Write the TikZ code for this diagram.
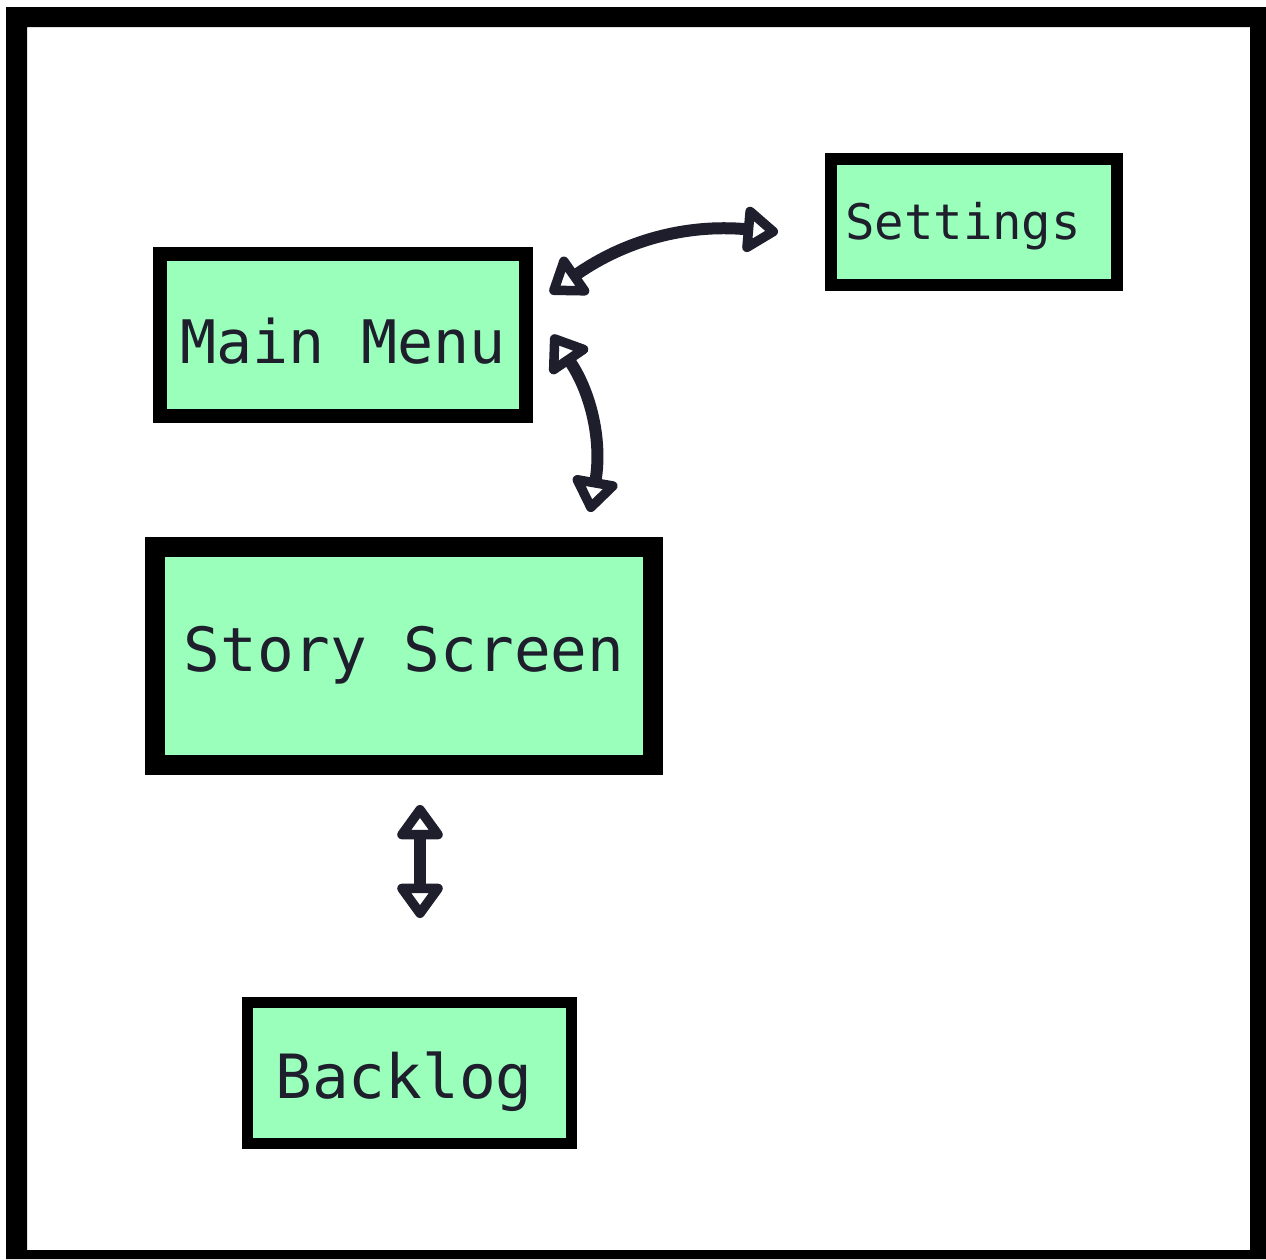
\documentclass[tikz,border=0pt]{standalone}
\usepackage{fontspec}
\newfontfamily\screenfont{DejaVu Sans Mono}
\usetikzlibrary{arrows.meta,calc}
\definecolor{screengreen}{HTML}{99FFBB}
\definecolor{inkdark}{HTML}{1E1E2C}
\tikzset{
  screenbox/.style={draw=black, fill=screengreen, rectangle, inner sep=0pt,
    text=inkdark, text depth=0pt},
  flowtip/.tip={Triangle[round,fill=white,length=38pt,width=52pt,line width'=14pt]},
  flow/.style={draw=inkdark, line width=12pt, line cap=round, flowtip-flowtip}
}
\begin{document}
\begin{tikzpicture}[x=1pt,y=-1pt]
  \useasboundingbox (0,0) rectangle (1266,1259);
  \fill[white] (0,0) rectangle (1266,1259);
  % outer frame
  \fill[black, even odd rule] (6,7) rectangle (1266,1259) (27,27) rectangle (1250,1250);

  % screens
  \node[screenbox, line width=14pt, minimum width=366pt, minimum height=162pt,
        text height=57pt, font=\screenfont\fontsize{60pt}{62pt}\selectfont]
        (main) at (343,335) {Main Menu};
  \node[screenbox, line width=12pt, minimum width=286pt, minimum height=126pt,
        text height=35.5pt, font=\screenfont\fontsize{49pt}{51pt}\selectfont]
        (settings) at (974,222) {Settings\kern22pt};
  \node[screenbox, line width=20pt, minimum width=498pt, minimum height=218pt,
        text height=44.5pt, text depth=13pt, font=\screenfont\fontsize{61pt}{63pt}\selectfont]
        (story) at (404,656) {Story Screen};
  \node[screenbox, line width=11pt, minimum width=324pt, minimum height=141pt,
        text height=51.5pt, font=\screenfont\fontsize{61pt}{63pt}\selectfont]
        (backlog) at (409.5,1073) {Backlog\kern11pt};

  % navigation between screens
  \draw[flow] ($(main.north east)+(17,46)$) to[bend left=20] ($(settings.west)+(-47,10)$);
  \draw[flow] ($(main.north east)+(19,88)$) to[bend left=22] ($(story.north east)+(-73,-25)$);
  \draw[flow] ($(story.south)+(16,30)$) -- ($(backlog.north)+(10.5,-79)$);
\end{tikzpicture}
\end{document}
